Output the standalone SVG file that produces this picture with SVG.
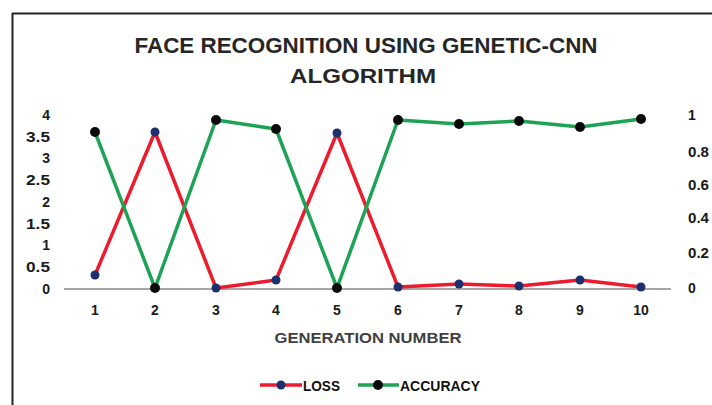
<svg xmlns="http://www.w3.org/2000/svg" width="712" height="405" viewBox="0 0 712 405">
<style>
.t{font-family:"Liberation Sans",Arial,sans-serif;font-weight:bold;fill:#262626}
.tk{font-family:"Liberation Sans",Arial,sans-serif;font-weight:bold;font-size:14px;fill:#1a1a1a}
.loss{fill:none;stroke:#ec1c2e;stroke-width:3.5;stroke-linejoin:round}
.acc{fill:none;stroke:#1ea356;stroke-width:3.5;stroke-linejoin:round}
.lm{fill:#1c2f6e}
.am{fill:#0a0a0a}
</style>
<rect width="712" height="405" fill="#fff"/>
<g id="frame" stroke="#222" stroke-width="2" fill="none">
<line x1="12" y1="13.5" x2="712" y2="13.5"/>
<line x1="12.5" y1="13" x2="12.5" y2="405"/>
</g>
<g id="title">
<text class="t" x="366" y="53" font-size="22" text-anchor="middle" textLength="463" lengthAdjust="spacingAndGlyphs">FACE RECOGNITION USING GENETIC-CNN</text>
<text class="t" x="363" y="83" font-size="21" text-anchor="middle" textLength="146" lengthAdjust="spacingAndGlyphs">ALGORITHM</text>
</g>
<g id="left-axis" class="tk" text-anchor="end">
<text x="50" y="120">4</text>
<text x="50" y="142" textLength="24" lengthAdjust="spacingAndGlyphs">3.5</text>
<text x="50" y="163">3</text>
<text x="50" y="185" textLength="24" lengthAdjust="spacingAndGlyphs">2.5</text>
<text x="50" y="207">2</text>
<text x="50" y="229" textLength="24" lengthAdjust="spacingAndGlyphs">1.5</text>
<text x="50" y="250">1</text>
<text x="50" y="272" textLength="24" lengthAdjust="spacingAndGlyphs">0.5</text>
<text x="50" y="294">0</text>
</g>
<g id="right-axis" class="tk">
<text x="688" y="120">1</text>
<text x="688" y="157" textLength="21" lengthAdjust="spacingAndGlyphs">0.8</text>
<text x="688" y="190" textLength="21" lengthAdjust="spacingAndGlyphs">0.6</text>
<text x="688" y="223" textLength="21" lengthAdjust="spacingAndGlyphs">0.4</text>
<text x="688" y="258" textLength="21" lengthAdjust="spacingAndGlyphs">0.2</text>
<text x="688" y="293">0</text>
</g>
<g id="x-axis">
<line x1="64" y1="289" x2="671" y2="289" stroke="#8a8a8a" stroke-width="1.5"/>
<g class="tk" text-anchor="middle">
<text x="95" y="315">1</text>
<text x="155" y="315">2</text>
<text x="216" y="315">3</text>
<text x="276" y="315">4</text>
<text x="337" y="315">5</text>
<text x="398" y="315">6</text>
<text x="459" y="315">7</text>
<text x="519" y="315">8</text>
<text x="580" y="315">9</text>
<text x="641" y="315">10</text>
</g>
<text x="368" y="343" font-family="Liberation Sans,Arial,sans-serif" font-weight="bold" font-size="14" fill="#404040" text-anchor="middle" textLength="187" lengthAdjust="spacingAndGlyphs">GENERATION NUMBER</text>
</g>
<g id="series">
<polyline class="loss" points="95,275 155,132 216,288 276,280 337,133 398,287 459,284 519,286 580,280 641,287"/>
<polyline class="acc" points="95,132 155,288 216,120 276,129 337,288 398,120 459,124 519,121 580,127 641,119"/>
<g class="lm">
<circle cx="95" cy="275" r="4.5"/><circle cx="155" cy="132" r="4.5"/><circle cx="216" cy="288" r="4.5"/><circle cx="276" cy="280" r="4.5"/><circle cx="337" cy="133" r="4.5"/><circle cx="398" cy="287" r="4.5"/><circle cx="459" cy="284" r="4.5"/><circle cx="519" cy="286" r="4.5"/><circle cx="580" cy="280" r="4.5"/><circle cx="641" cy="287" r="4.5"/>
</g>
<g class="am">
<circle cx="95" cy="132" r="5"/><circle cx="155" cy="288" r="5"/><circle cx="216" cy="120" r="5"/><circle cx="276" cy="129" r="5"/><circle cx="337" cy="288" r="5"/><circle cx="398" cy="120" r="5"/><circle cx="459" cy="124" r="5"/><circle cx="519" cy="121" r="5"/><circle cx="580" cy="127" r="5"/><circle cx="641" cy="119" r="5"/>
</g>
</g>
<g id="legend">
<line class="loss" x1="260" y1="385" x2="302" y2="385"/>
<circle class="lm" cx="281" cy="385" r="4.5"/>
<text x="303" y="391" font-family="Liberation Sans,Arial,sans-serif" font-weight="bold" font-size="15" fill="#111" textLength="37" lengthAdjust="spacingAndGlyphs">LOSS</text>
<line class="acc" x1="358" y1="385" x2="399" y2="385"/>
<circle class="am" cx="378" cy="385" r="5"/>
<text x="400" y="391" font-family="Liberation Sans,Arial,sans-serif" font-weight="bold" font-size="15" fill="#111" textLength="80" lengthAdjust="spacingAndGlyphs">ACCURACY</text>
</g>
</svg>
